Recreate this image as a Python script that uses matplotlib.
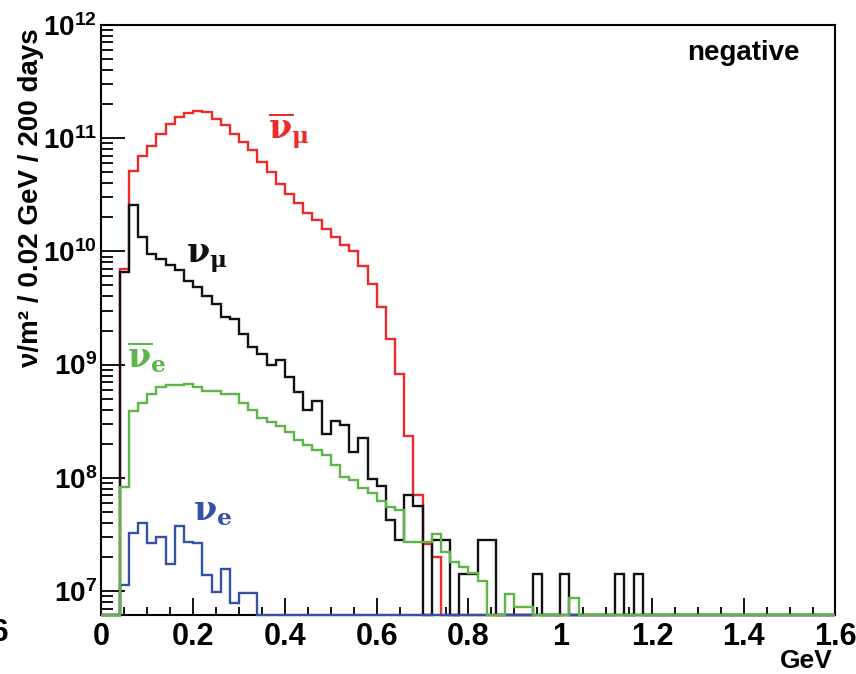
import numpy as np
import matplotlib
matplotlib.use("Agg")
import matplotlib.pyplot as plt
from matplotlib.ticker import FixedLocator, FixedFormatter, LogLocator, NullFormatter

plt.rcParams['font.family'] = ['Liberation Sans', 'DejaVu Sans']
plt.rcParams['font.weight'] = 'bold'
plt.rcParams['mathtext.fontset'] = 'custom'
plt.rcParams['mathtext.rm'] = 'Liberation Sans:bold'
plt.rcParams['mathtext.bf'] = 'Liberation Sans:bold'
plt.rcParams['mathtext.it'] = 'Liberation Sans:bold:italic'

# ---- histogram content: neutrinos / m^2 / 0.02 GeV / 200 days ----
x_min, x_max, bin_width = 0.0, 1.6, 0.02

nubar_mu = [0, 0, 7.0e9, 5.1e10, 6.9e10, 8.45e10, 1.09e11, 1.34e11, 1.53e11, 1.67e11,
            1.75e11, 1.70e11, 1.48e11, 1.30e11, 1.09e11, 9.2e10, 7.8e10, 6.1e10, 5.0e10, 3.95e10,
            3.2e10, 2.65e10, 2.2e10, 1.88e10, 1.58e10, 1.34e10, 1.13e10, 1.0e10, 7.4e9, 5.1e9,
            3.2e9, 1.7e9, 8.3e8, 2.35e8, 7.0e7, 2.6e7, 2.0e7, 0, 0, 0,
            0, 0, 0, 0, 0, 0, 0, 0, 0, 0,
            0, 0, 0, 0, 0, 0, 0, 0, 0, 0,
            0, 0, 0, 0, 0, 0, 0, 0, 0, 0,
            0, 0, 0, 0, 0, 0, 0, 0, 0, 0]

nu_mu = [0, 0, 6.6e9, 2.55e10, 1.34e10, 9.4e9, 8.5e9, 7.6e9, 6.8e9, 5.5e9,
         4.85e9, 4.0e9, 3.45e9, 2.63e9, 2.55e9, 1.88e9, 1.43e9, 1.25e9, 9.9e8, 1.09e9,
         7.8e8, 5.7e8, 4.0e8, 4.8e8, 2.43e8, 3.15e8, 2.9e8, 1.7e8, 2.24e8, 9.8e7,
         8.4e7, 4.2e7, 2.8e7, 7.0e7, 5.6e7, 0, 2.8e7, 2.8e7, 0, 1.4e7,
         1.4e7, 2.8e7, 2.8e7, 0, 0, 0, 0, 1.4e7, 0, 0,
         1.4e7, 0, 0, 0, 0, 0, 1.4e7, 0, 1.4e7, 0,
         0, 0, 0, 0, 0, 0, 0, 0, 0, 0,
         0, 0, 0, 0, 0, 0, 0, 0, 0, 0]

nubar_e = [0, 0, 8.3e7, 3.9e8, 4.6e8, 5.5e8, 6.4e8, 6.6e8, 6.6e8, 6.8e8,
           6.4e8, 5.9e8, 5.9e8, 5.5e8, 5.5e8, 4.6e8, 4.0e8, 3.4e8, 3.1e8, 2.85e8,
           2.55e8, 2.16e8, 1.95e8, 1.77e8, 1.6e8, 1.29e8, 1.02e8, 9.5e7, 8.1e7, 7.3e7,
           6.2e7, 5.5e7, 5.2e7, 2.7e7, 2.7e7, 2.7e7, 3.2e7, 2.2e7, 1.8e7, 1.64e7,
           1.45e7, 1.23e7, 0, 0, 9.5e6, 7.2e6, 7.2e6, 0, 0, 0,
           0, 8.7e6, 0, 0, 0, 0, 0, 0, 0, 0,
           0, 0, 0, 0, 0, 0, 0, 0, 0, 0,
           0, 0, 0, 0, 0, 0, 0, 0, 0, 0]

nu_e = [0, 0, 1.13e7, 3.27e7, 4.0e7, 2.63e7, 3.0e7, 1.73e7, 3.74e7, 2.72e7,
        2.63e7, 1.38e7, 9.75e6, 1.58e7, 7.8e6, 9.7e6, 9.7e6, 0, 0, 0,
        0, 0, 0, 0, 0, 0, 0, 0, 0, 0,
        0, 0, 0, 0, 0, 0, 0, 0, 0, 0,
        0, 0, 0, 0, 0, 0, 0, 0, 0, 0,
        0, 0, 0, 0, 0, 0, 0, 0, 0, 0,
        0, 0, 0, 0, 0, 0, 0, 0, 0, 0,
        0, 0, 0, 0, 0, 0, 0, 0, 0, 0]

x_tick_values = [0, 0.2, 0.4, 0.6, 0.8, 1.0, 1.2, 1.4, 1.6]
x_tick_labels = ['0', '0.2', '0.4', '0.6', '0.8', '1', '1.2', '1.4', '1.6']
y_tick_exponents = [7, 8, 9, 10, 11, 12]

y_min, y_max = 6.14e6, 1e12

# ---- figure ----
fig = plt.figure(figsize=(8.56, 6.74), dpi=100)
ax = fig.add_axes([0.1185, 0.0875, 0.8575, 0.8755])
ax.set_yscale('log')
ax.set_xlim(x_min, x_max)
ax.set_ylim(y_min, y_max)

n_bins = len(nubar_mu)
edges = x_min + bin_width * np.arange(n_bins + 1)

red, black, green, blue = '#ee2b2b', '#111111', '#5db648', '#3652a6'
series = [(nubar_mu, red), (nu_mu, black), (nu_e, blue), (nubar_e, green)]
for values, color in series:
    v = np.asarray(values, dtype=float)
    v = np.where(v > 0, v, y_min)   # empty bins sit on the frame bottom
    ax.stairs(v, edges, baseline=None, color=color, lw=1.7,
              clip_on=False, zorder=3)

# axes frame and ticks
for sp in ax.spines.values():
    sp.set_linewidth(1.5)
    sp.set_zorder(2.5)

ax.xaxis.set_major_locator(FixedLocator(x_tick_values))
ax.xaxis.set_major_formatter(FixedFormatter(x_tick_labels))
ax.xaxis.set_minor_locator(FixedLocator(np.arange(0, 1.6001, 0.05)))

ax.yaxis.set_major_locator(FixedLocator([10.0 ** e for e in y_tick_exponents]))
ax.yaxis.set_major_formatter(FixedFormatter(
    [r'$\mathbf{10^{%d}}$' % e for e in y_tick_exponents]))
ax.yaxis.set_minor_locator(LogLocator(base=10, subs=np.arange(2, 10), numticks=20))
ax.yaxis.set_minor_formatter(NullFormatter())

ax.tick_params(axis='x', which='major', direction='in', length=12.6, width=1.3,
               pad=5, labelsize=22, top=False)
ax.tick_params(axis='x', which='minor', direction='in', length=5.8, width=1.3, top=False)
ax.tick_params(axis='y', which='major', direction='in', length=17.3, width=1.3,
               pad=3, labelsize=20, right=False)
ax.tick_params(axis='y', which='minor', direction='in', length=8.6, width=1.3, right=False)

# curve labels (upright Greek, serif)
lab_kw = dict(fontsize=24, math_fontfamily='dejavuserif', fontweight='normal',
              va='baseline', ha='left')
ax.text(0.363, 1.0e11, r'$\overline{\mathrm{\nu}}_{\mathrm{\mu}}$', color=red, **lab_kw)
ax.text(0.185, 8.0e9, r'$\mathrm{\nu}_{\mathrm{\mu}}$', color=black, **lab_kw)
ax.text(0.055, 9.5e8, r'$\overline{\mathrm{\nu}}_{\mathrm{e}}$', color=green, **lab_kw)
ax.text(0.200, 4.2e7, r'$\mathrm{\nu}_{\mathrm{e}}$', color=blue, **lab_kw)

# titles
fig.text(800 / 856, 1 - 60 / 674, 'negative', ha='right', va='baseline',
         fontsize=20, fontweight='bold')
fig.text(31 / 856, 1 - 28 / 674, 'ν/m² / 0.02 GeV / 200 days', rotation=90,
         ha='center', va='top', fontsize=20, fontweight='bold')
fig.text(833 / 856, 1 - 661 / 674, 'GeV', ha='right', va='center',
         fontsize=19, fontweight='bold')
fig.text(9 / 856, 1 - 633 / 674, '1.6', ha='right', va='center',
         fontsize=22, fontweight='bold')

fig.savefig('out.png', dpi=100)
